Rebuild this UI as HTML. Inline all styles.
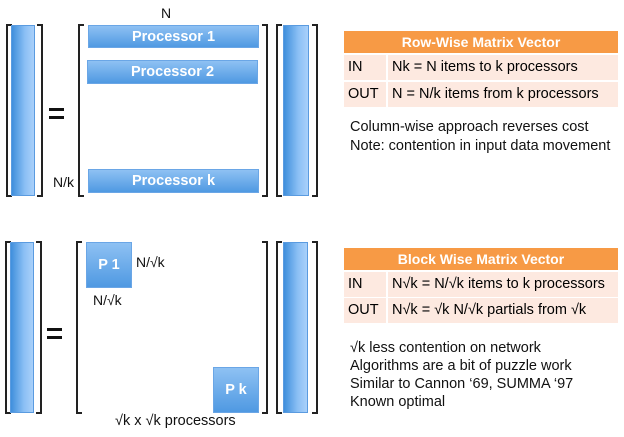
<!DOCTYPE html>
<html><head><style>
body{margin:0;width:624px;height:437px;background:#fff;position:relative;overflow:hidden;font-family:"Liberation Sans",sans-serif;}
div{position:absolute;box-sizing:border-box;}
.bl{border:2px solid #222;border-right:none;width:6px;}
.br{border:2px solid #222;border-left:none;width:6px;}
.bar{background:linear-gradient(to right,#3f8fdc,#8cc0f5 60%,#a9d0fa);border:1px solid #5a9be0;}
.p{background:linear-gradient(to bottom,#8ec1f3,#4f99e2);border:1px solid #6aa6e6;color:#fff;font-size:14.5px;font-weight:bold;text-align:center;}
.t{font-size:14px;color:#111;white-space:nowrap;}
.hd{background:#f79a45;color:#fff;font-weight:bold;font-size:14px;text-align:center;line-height:22px;}
.row{background:#fde9e0;font-size:14.5px;line-height:24px;white-space:nowrap;}
.eq{width:15px;height:3px;background:#111;}
</style></head><body>
<!-- top -->
<div class="bl" style="left:6px;top:24px;height:173px"></div>
<div class="bar" style="left:11px;top:25px;width:24px;height:171px"></div>
<div class="br" style="left:37px;top:24px;height:173px"></div>
<div class="eq" style="left:49px;top:108px"></div><div class="eq" style="left:49px;top:116px"></div>
<div class="bl" style="left:78px;top:24px;height:173px"></div>
<div class="br" style="left:262px;top:24px;height:173px"></div>
<div class="t" style="left:161px;top:5px">N</div>
<div class="p" style="left:88px;top:25px;width:171px;height:23px;line-height:22px">Processor 1</div>
<div class="p" style="left:87px;top:60px;width:171px;height:24px;line-height:23px">Processor 2</div>
<div class="p" style="left:88px;top:169px;width:171px;height:24px;line-height:23px">Processor k</div>
<div class="t" style="left:53px;top:174px">N/k</div>
<div class="bl" style="left:276px;top:24px;height:173px"></div>
<div class="bar" style="left:283px;top:25px;width:26px;height:171px"></div>
<div class="br" style="left:312px;top:24px;height:173px"></div>
<!-- top table -->
<div class="hd" style="left:344px;top:31px;width:274px;height:22px">Row-Wise Matrix Vector</div>
<div class="row" style="left:344px;top:55px;width:42px;height:25px;padding-left:4px">IN</div>
<div class="row" style="left:388px;top:55px;width:230px;height:25px;padding-left:4px">Nk = N items to k processors</div>
<div class="row" style="left:344px;top:82px;width:42px;height:25px;padding-left:4px">OUT</div>
<div class="row" style="left:388px;top:82px;width:230px;height:25px;padding-left:4px">N = N/k items from k processors</div>
<div class="t" style="left:350px;top:118px;line-height:19px;font-size:14.5px">Column-wise approach reverses cost<br>Note: contention in input data movement</div>
<!-- bottom -->
<div class="bl" style="left:5px;top:241px;height:173px"></div>
<div class="bar" style="left:10px;top:242px;width:24px;height:171px"></div>
<div class="br" style="left:36px;top:241px;height:173px"></div>
<div class="eq" style="left:47px;top:328px"></div><div class="eq" style="left:47px;top:336px"></div>
<div class="bl" style="left:76px;top:241px;height:173px"></div>
<div class="br" style="left:262px;top:241px;height:173px"></div>
<div class="p" style="left:86px;top:242px;width:46px;height:46px;line-height:44px">P 1</div>
<div class="t" style="left:136px;top:254px">N/√k</div>
<div class="t" style="left:93px;top:292px">N/√k</div>
<div class="p" style="left:213px;top:367px;width:46px;height:46px;line-height:44px">P k</div>
<div class="t" style="left:115px;top:413px;font-size:14.5px">√k x √k processors</div>
<div class="bl" style="left:276px;top:241px;height:173px"></div>
<div class="bar" style="left:283px;top:242px;width:25px;height:171px"></div>
<div class="br" style="left:312px;top:241px;height:173px"></div>
<!-- bottom table -->
<div class="hd" style="left:344px;top:248px;width:274px;height:22px">Block Wise Matrix Vector</div>
<div class="row" style="left:344px;top:272px;width:42px;height:25px;padding-left:4px">IN</div>
<div class="row" style="left:388px;top:272px;width:230px;height:25px;padding-left:4px">N√k = N/√k items to k processors</div>
<div class="row" style="left:344px;top:298px;width:42px;height:25px;padding-left:4px">OUT</div>
<div class="row" style="left:388px;top:298px;width:230px;height:25px;padding-left:4px">N√k = √k N/√k partials from √k</div>
<div class="t" style="left:350px;top:339px;line-height:18px;font-size:14.5px">√k less contention on network<br>Algorithms are a bit of puzzle work<br>Similar to Cannon ‘69, SUMMA ‘97<br>Known optimal</div>
</body></html>
